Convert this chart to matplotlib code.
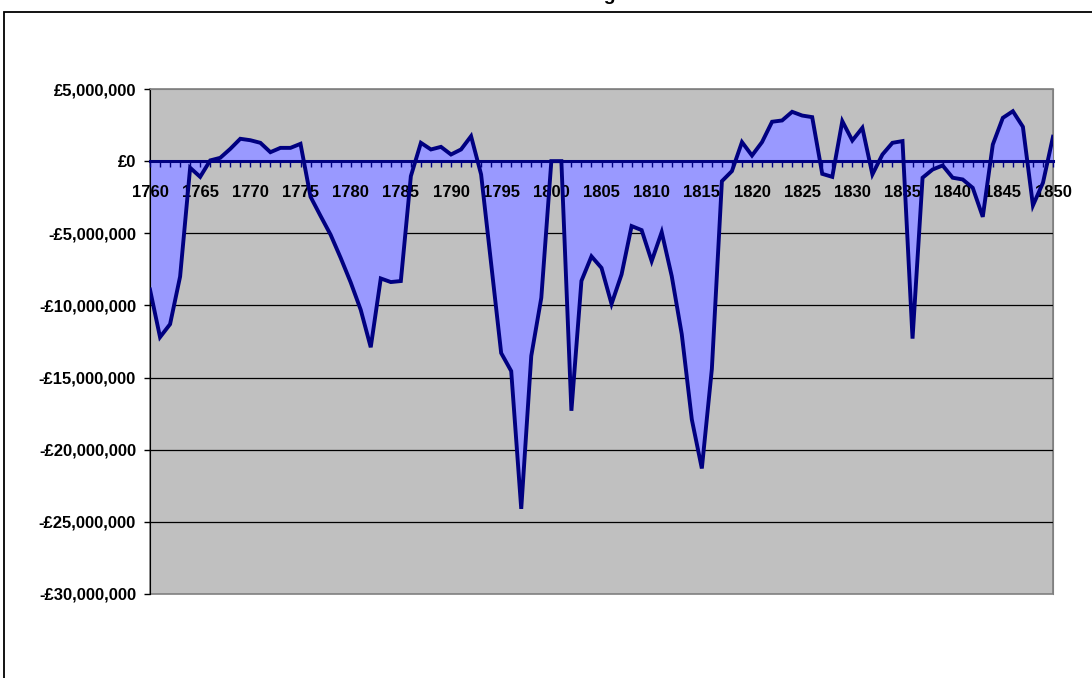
import numpy as np
import matplotlib.pyplot as plt
from matplotlib.patches import Rectangle
from matplotlib.ticker import FuncFormatter

plt.rcParams["font.family"] = ["Liberation Sans", "DejaVu Sans"]

# Data (millions of pounds)
years = list(range(1760, 1851))
balance_m = [
    -8.9, -12.2, -11.3, -8.0, -0.46, -1.09, 0.05, 0.23, 0.85, 1.55,   # 1760-1769
    1.45, 1.27, 0.62, 0.92, 0.92, 1.2, -2.47, -3.8, -5.1, -6.7,       # 1770-1779
    -8.4, -10.3, -12.9, -8.13, -8.38, -8.31, -1.04, 1.27, 0.81, 0.99, # 1780-1789
    0.46, 0.81, 1.73, -0.92, -7.1, -13.3, -14.55, -24.1, -13.5, -9.47,# 1790-1799
    0.0, 0.0, -17.3, -8.3, -6.6, -7.4, -9.9, -7.85, -4.5, -4.78,      # 1800-1809
    -6.93, -4.92, -7.97, -12.0, -17.9, -21.3, -14.4, -1.39, -0.69, 1.32,  # 1810-1819
    0.39, 1.32, 2.73, 2.82, 3.42, 3.16, 3.05, -0.88, -1.09, 2.77,     # 1820-1829
    1.43, 2.31, -0.92, 0.46, 1.27, 1.39, -12.3, -1.15, -0.58, -0.30,  # 1830-1839
    -1.15, -1.27, -1.85, -3.86, 1.15, 3.0, 3.46, 2.38, -3.07, -1.5,   # 1840-1849
    1.69,                                                             # 1850
]
y_ticks = [5e6, 0, -5e6, -10e6, -15e6, -20e6, -25e6, -30e6]

x = np.array(years)
y = np.array(balance_m) * 1e6

fig = plt.figure(figsize=(10.92, 6.78), dpi=100)
ax = fig.add_axes([150 / 1092, 1 - 594 / 678, 903 / 1092, 505 / 678])

# chart area border
fig.patches.append(Rectangle((4 / 1092, -0.1), 1.2, 1.1 - 12 / 678, transform=fig.transFigure,
                             fill=False, edgecolor="black", linewidth=1.3))
# title sits above the top edge, only the descender shows
fig.text(616 / 1092, 1.0, "Government Borrowing", ha="right", va="baseline",
         fontsize=14, fontweight="bold")

ax.set_facecolor("#C0C0C0")
ax.fill_between(x, y, 0, color="#9999FF", linewidth=0, zorder=2)
ax.plot(x, y, color="#000080", linewidth=2.8, zorder=3, solid_joinstyle="miter")

ax.set_xlim(1760, 1850)
ax.set_ylim(-30e6, 5e6)

for v in y_ticks[2:-1]:
    ax.axhline(v, color="black", linewidth=0.9, zorder=1)

ax.spines["bottom"].set_position(("data", 0))
ax.spines["bottom"].set_color("#000080")
ax.spines["bottom"].set_linewidth(2.2)
ax.spines["bottom"].set_zorder(2.5)
ax.spines["top"].set_color("#808080")
ax.spines["right"].set_color("#808080")
ax.spines["left"].set_color("black")
ax.add_patch(Rectangle((0, 0), 1, 1, transform=ax.transAxes, fill=False,
                       edgecolor="#808080", linewidth=1.2, zorder=0.5, clip_on=False))

ax.set_yticks(y_ticks)
ax.yaxis.set_major_formatter(FuncFormatter(
    lambda v, p: ("-" if v < 0 else "") + "£{:,.0f}".format(abs(v))))
ax.set_xticks(years)
ax.set_xticklabels([str(yr) if yr % 5 == 0 else "" for yr in years])
ax.xaxis.set_zorder(2.7)

ax.tick_params(axis="x", direction="out", length=4, width=1, color="#000080", pad=13)
ax.tick_params(axis="y", direction="out", length=4, width=1, color="black", pad=6)
for lab in ax.get_xticklabels() + ax.get_yticklabels():
    lab.set_fontsize(12)
    lab.set_fontweight("bold")

fig.savefig("out.png", dpi=100)
